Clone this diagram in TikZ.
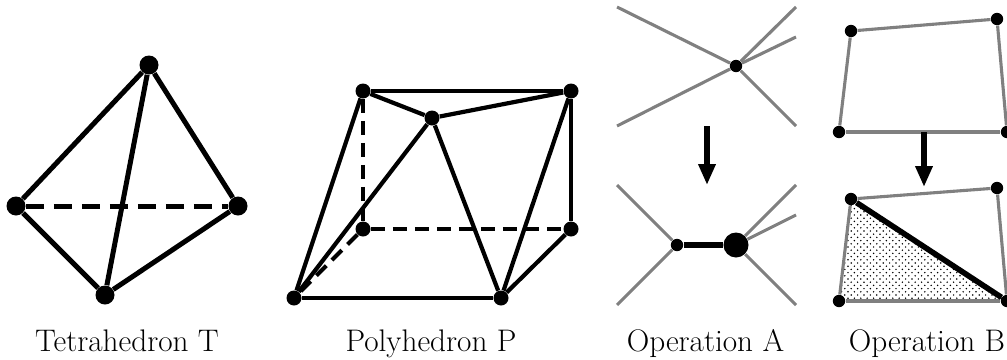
\documentclass[tikz,border=0pt]{standalone}
\usetikzlibrary{patterns,arrows.meta}
\pgfdeclarepatternformonly{finedots}{\pgfqpoint{-1pt}{-1pt}}{\pgfqpoint{2.2pt}{2.2pt}}{\pgfqpoint{3.2pt}{3.2pt}}
{
    \pgfpathcircle{\pgfqpoint{0pt}{0pt}}{0.42pt}
    \pgfpathcircle{\pgfqpoint{1.6pt}{1.6pt}}{0.42pt}
    \pgfusepath{fill}
}
\tikzset{
    bigdot/.style={circle,fill=black,inner sep=0pt,minimum size=9.5pt},
    middot/.style={circle,fill=black,inner sep=0pt,minimum size=7.5pt},
    smalldot/.style={circle,fill=black,inner sep=0pt,minimum size=6.2pt},
    hugedot/.style={circle,fill=black,inner sep=0pt,minimum size=12.5pt},
    tetra/.style={line width=2.5pt},
    poly/.style={line width=2.1pt},
    greyedge/.style={line width=1.55pt,draw=black!50},
    thickedge/.style={line width=2.8pt},
    downarrow/.style={line width=3pt,-{Triangle[length=10.5pt,width=8.2pt]}},
    caption/.style={font=\fontsize{15.6}{18}\selectfont,inner sep=0pt,anchor=base}
}
\begin{document}
\begin{tikzpicture}[x=0.5pt,y=-0.5pt]
\clip (0,0) rectangle (1007,359);
% tetrahedron
\node[bigdot] (t1) at (149,65){};
\node[bigdot] (t2) at (16,206){};
\node[bigdot] (t3) at (238,206){};
\node[bigdot] (t4) at (105,295){};
\foreach \a/\b in {t1/t2,t1/t3,t1/t4,t2/t4,t3/t4}
{
    \draw[tetra] (\a) -- (\b);
}
\draw[tetra,dash pattern=on 9pt off 5pt] (t2) -- (t3);
\node[caption] (ct) at (127,351){Tetrahedron T};
% polyhedron
\node[middot] (p1) at (363,91){};
\node[middot] (p2) at (571,91){};
\node[middot] (p3) at (432,118){};
\node[middot] (p4) at (363,229){};
\node[middot] (p5) at (571,229){};
\node[middot] (p6) at (294,298){};
\node[middot] (p7) at (501,298){};
\foreach \a/\b in {p1/p2,p1/p3,p2/p3,p1/p6,p3/p6,p3/p7,p2/p7,p2/p5,p5/p7,p6/p7}
{
    \draw[poly] (\a) -- (\b);
}
\foreach \a/\b in {p1/p4,p4/p5,p4/p6}
{
    \draw[poly,dash pattern=on 7pt off 4pt] (\a) -- (\b);
}
\node[caption] (cp) at (431,351){Polyhedron P};
% operation A, before
\node[smalldot] (a0) at (736,66){};
\coordinate (a1) at (617,7);
\coordinate (a2) at (796,7);
\coordinate (a3) at (796,37);
\coordinate (a4) at (617,126);
\coordinate (a5) at (796,126);
\foreach \x in {1,...,5}
{
    \draw[greyedge] (a0) -- (a\x);
}
\coordinate (a6) at (707,126);
\coordinate (a7) at (707,185);
\draw[downarrow] (a6) -- (a7);
% operation A, after
\node[smalldot] (b0) at (677,245){};
\node[hugedot] (b9) at (736,245){};
\coordinate (b1) at (617,185);
\coordinate (b2) at (796,185);
\coordinate (b3) at (796,215);
\coordinate (b4) at (617,305);
\coordinate (b5) at (796,305);
\draw[greyedge] (b0) -- (b1);
\draw[greyedge] (b0) -- (b4);
\draw[greyedge] (b9) -- (b2);
\draw[greyedge] (b9) -- (b3);
\draw[greyedge] (b9) -- (b5);
\draw[thickedge] (b0) -- (b9);
\node[caption] (ca) at (705.5,351){Operation A};
% operation B, before
\node[smalldot] (c1) at (851,31){};
\node[smalldot] (c2) at (997,19){};
\node[smalldot] (c3) at (839,132){};
\node[smalldot] (c4) at (1007,132){};
\foreach \a/\b in {c1/c2,c2/c4,c1/c3,c3/c4}
{
    \draw[greyedge] (\a) -- (\b);
}
\coordinate (c5) at (924,132);
\coordinate (c6) at (924,187);
\draw[downarrow] (c5) -- (c6);
% operation B, after
\fill[pattern=finedots] (851,199) -- (839,301) -- (1007,301) -- cycle;
\node[smalldot] (d1) at (851,199){};
\node[smalldot] (d2) at (997,188){};
\node[smalldot] (d3) at (839,301){};
\node[smalldot] (d4) at (1007,301){};
\foreach \a/\b in {d1/d2,d2/d4,d1/d3,d3/d4}
{
    \draw[greyedge] (\a) -- (\b);
}
\draw[thickedge] (d1) -- (d4);
\node[caption] (cb) at (927,351){Operation B};
\end{tikzpicture}
\end{document}
